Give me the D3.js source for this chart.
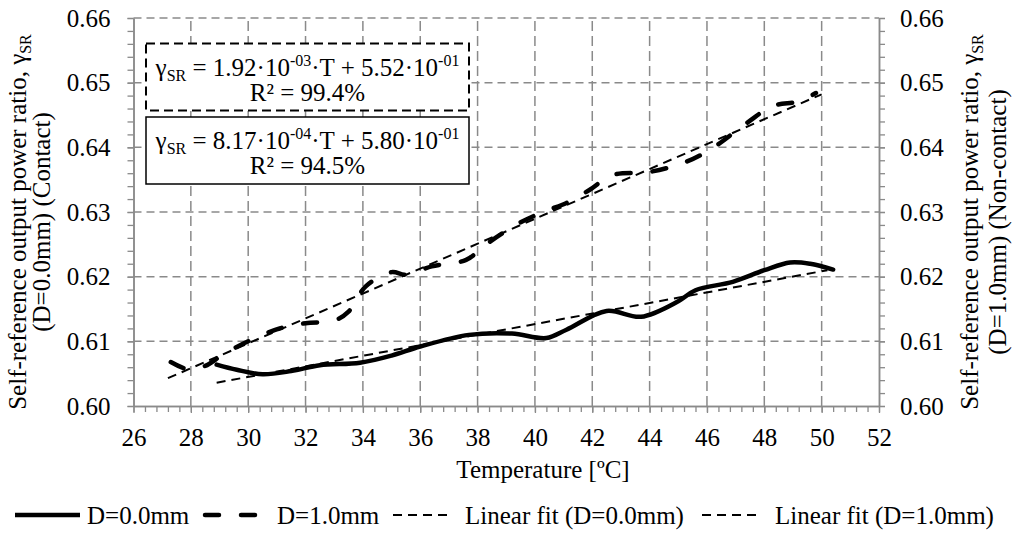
<!DOCTYPE html>
<html>
<head>
<meta charset="utf-8">
<script src="https://cdn.jsdelivr.net/npm/d3@7"></script>
<style>
  body { margin: 0; background: #fff; }
  svg { display: block; }
  svg text { font-family: "Liberation Serif", "Times New Roman", serif; }
</style>
</head>
<body>
<div id="chart"></div>
<script>
// values
const tempD0 = [28.9, 29.6, 30.5, 31.5, 32.5, 33.9, 35.0, 36.0, 37.7, 39.2, 40.4, 41.1, 42.5, 43.7, 45.0, 45.6, 46.9, 48.0, 48.9, 49.6, 50.4];
const ratioD0 = [0.6064, 0.6056, 0.6049, 0.6054, 0.6063, 0.6067, 0.6078, 0.6092, 0.6110, 0.6112, 0.6105, 0.6118, 0.6147, 0.6138, 0.6162, 0.6179, 0.6192, 0.6210, 0.6222, 0.6220, 0.6211];

const tempD1 = [27.3, 27.9, 28.5, 29.1, 30.0, 31.1, 32.0, 33.0, 33.5, 34.1, 35.0, 35.5, 36.4, 37.6, 38.3, 39.5, 40.4, 41.1, 41.9, 42.7, 44.0, 45.3, 46.2, 47.4, 48.3, 49.2, 49.8];
const ratioD1 = [0.6068, 0.6057, 0.6062, 0.6079, 0.6100, 0.6120, 0.6128, 0.6132, 0.6146, 0.6185, 0.6207, 0.6203, 0.6216, 0.6226, 0.6250, 0.6284, 0.6302, 0.6314, 0.6334, 0.6357, 0.6362, 0.6378, 0.6399, 0.6438, 0.6464, 0.6471, 0.6484];

// linear fit end points (D=0.0mm, D=1.0mm)
const fitTemps = [[28.9, 50.2], [27.2, 50.0]];
const fitRatios = [[0.6036, 0.6210], [0.6043, 0.6482]];

// fit equation text: slope mantissa, slope exponent, intercept mantissa, intercept exponent
const fitEqD1 = ["1.92", "-03", "5.52", "-01"];
const fitEqD0 = ["8.17", "-04", "5.80", "-01"];
const fitR2 = ["99.4%", "94.5%"];

const xTicks = [26, 28, 30, 32, 34, 36, 38, 40, 42, 44, 46, 48, 50, 52];
const yTicks = [0.60, 0.61, 0.62, 0.63, 0.64, 0.65, 0.66];
const legendLabels = ["D=0.0mm", "D=1.0mm", "Linear fit (D=0.0mm)", "Linear fit (D=1.0mm)"];

const width = 1024;
const height = 539;
const marginLeft = 133.5;
const marginRight = 879;
const marginTop = 18;
const marginBottom = 406;
const font = "'Liberation Serif', 'Times New Roman', serif";
const gridColor = "#8a8a8a";

const x = d3.scaleLinear([26, 52], [marginLeft, marginRight]);
const y = d3.scaleLinear([0.60, 0.66], [marginBottom, marginTop]);

let svg = d3.select("#chart")
    .append("svg")
    .attr("width", width)
    .attr("height", height)
    .attr("viewBox", [0, 0, width, height])
    .style("background", "#fff")
    .style("font-family", font);

// grid lines
svg.append("g")
    .selectAll("line")
    .data(yTicks.slice(1))
    .join("line")
    .attr("x1", marginLeft).attr("x2", marginRight)
    .attr("y1", d => y(d)).attr("y2", d => y(d))
    .attr("stroke", gridColor).attr("stroke-width", 1.5)
    .attr("stroke-dasharray", "8,5");

svg.append("g")
    .selectAll("line")
    .data(xTicks.slice(1, -1))
    .join("line")
    .attr("x1", d => x(d)).attr("x2", d => x(d))
    .attr("y1", marginBottom).attr("y2", marginTop)
    .attr("stroke", gridColor).attr("stroke-width", 1.5)
    .attr("stroke-dasharray", "10,5");

// axes
const yMinor = d3.range(0, 31).map(i => 0.60 + i * 0.002);
const xMinor = d3.range(0, 66).map(i => 26 + i * 0.4);

function styleAxis(g){
    g.select(".domain").attr("stroke", gridColor).attr("stroke-width", 1.5);
    g.selectAll(".tick line").attr("stroke", gridColor).attr("stroke-width", 1.3);
    g.selectAll("text").attr("fill", "#000");
    g.attr("font-size", 25).attr("font-family", null).style("font-family", font);
}

svg.append("g")
    .attr("transform", `translate(${marginLeft},0)`)
    .call(d3.axisLeft(y).tickValues(yMinor).tickSize(6).tickFormat("").tickSizeOuter(0))
    .call(styleAxis);
svg.append("g")
    .attr("transform", `translate(${marginLeft},0)`)
    .call(d3.axisLeft(y).tickValues(yTicks).tickSize(6).tickPadding(17).tickFormat(d3.format(".2f")).tickSizeOuter(0))
    .call(styleAxis);

svg.append("g")
    .attr("transform", `translate(${marginRight},0)`)
    .call(d3.axisRight(y).tickValues(yMinor).tickSize(6).tickFormat("").tickSizeOuter(0))
    .call(styleAxis);
svg.append("g")
    .attr("transform", `translate(${marginRight},0)`)
    .call(d3.axisRight(y).tickValues(yTicks).tickSize(6).tickPadding(15).tickFormat(d3.format(".2f")).tickSizeOuter(0))
    .call(styleAxis);

svg.append("g")
    .attr("transform", `translate(0,${marginBottom})`)
    .call(d3.axisBottom(x).tickValues(xMinor).tickSize(6).tickFormat("").tickSizeOuter(0))
    .call(styleAxis);
svg.append("g")
    .attr("transform", `translate(0,${marginBottom})`)
    .call(d3.axisBottom(x).tickValues(xTicks).tickSize(7).tickPadding(15).tickFormat(d3.format("d")).tickSizeOuter(0))
    .call(styleAxis);

// axis titles
svg.append("text")
    .attr("x", 543).attr("y", 478)
    .attr("text-anchor", "middle").attr("font-size", 25)
    .text("Temperature [ºC]");

function yTitle(xPos, line2){
    let t1 = svg.append("text")
        .attr("transform", `translate(${xPos[0]},222) rotate(-90)`)
        .attr("text-anchor", "middle").attr("font-size", 25);
    t1.append("tspan").text("Self-reference output power ratio, γ");
    t1.append("tspan").attr("font-size", 16).attr("dy", 5).text("SR");
    svg.append("text")
        .attr("transform", `translate(${xPos[1]},222) rotate(-90)`)
        .attr("text-anchor", "middle").attr("font-size", 25)
        .text(line2);
}
yTitle([26, 50], "(D=0.0mm) (Contact)");
yTitle([978, 1006], "(D=1.0mm) (Non-contact)");

// linear fits
let straight = d3.line().x(d => x(d[0])).y(d => y(d[1]));
fitTemps.forEach((t, i) => {
    svg.append("path")
        .attr("fill", "none")
        .attr("stroke", "#000")
        .attr("stroke-width", 2)
        .attr("stroke-dasharray", "9,6")
        .attr("d", straight(t.map((v, j) => [v, fitRatios[i][j]])));
});

// measured curves
let smooth = d3.line()
    .x(d => x(d[0]))
    .y(d => y(d[1]))
    .curve(d3.curveCatmullRom.alpha(0.5));

svg.append("path")
    .attr("fill", "none")
    .attr("stroke", "#000")
    .attr("stroke-width", 4.5)
    .attr("stroke-linecap", "round")
    .attr("d", smooth(tempD0.map((t, i) => [t, ratioD0[i]])));

svg.append("path")
    .attr("fill", "none")
    .attr("stroke", "#000")
    .attr("stroke-width", 4.5)
    .attr("stroke-linecap", "round")
    .attr("stroke-dasharray", "14,22")
    .attr("d", smooth(tempD1.map((t, i) => [t, ratioD1[i]])));

// equation boxes
function eqBox(top, dashed, eq, r2){
    svg.append("rect")
        .attr("x", 146).attr("y", top)
        .attr("width", 323).attr("height", 67)
        .attr("fill", "#fff")
        .attr("stroke", "#000")
        .attr("stroke-width", dashed ? 2 : 1.5)
        .attr("stroke-dasharray", dashed ? "9,5" : null);
    let t = svg.append("text")
        .attr("x", 307.5).attr("y", top + 32)
        .attr("text-anchor", "middle").attr("font-size", 25);
    t.append("tspan").text("γ");
    t.append("tspan").attr("font-size", 16).attr("dy", 5).text("SR");
    t.append("tspan").attr("dy", -5).text(" = " + eq[0] + "·10");
    t.append("tspan").attr("font-size", 16).attr("dy", -10).text(eq[1]);
    t.append("tspan").attr("dy", 10).text("·T + " + eq[2] + "·10");
    t.append("tspan").attr("font-size", 16).attr("dy", -10).text(eq[3]);
    svg.append("text")
        .attr("x", 307.5).attr("y", top + 57)
        .attr("text-anchor", "middle").attr("font-size", 25)
        .text("R² = " + r2);
}
eqBox(43.5, true, fitEqD1, fitR2[0]);
eqBox(117, false, fitEqD0, fitR2[1]);

// legend
const legendX = [[13, 82, 87], [203, 257, 277], [393, 453, 465], [702, 762, 775]];
const legendStyle = [
    {w: 4.5, dash: null},
    {w: 4.5, dash: "14,22"},
    {w: 2, dash: "9,6"},
    {w: 2, dash: "9,6"}
];
legendLabels.forEach((label, i) => {
    svg.append("line")
        .attr("x1", legendX[i][0] + (legendStyle[i].w > 3 ? 2 : 0))
        .attr("x2", legendX[i][1] - (legendStyle[i].w > 3 ? 2 : 0))
        .attr("y1", 515).attr("y2", 515)
        .attr("stroke", "#000")
        .attr("stroke-width", legendStyle[i].w)
        .attr("stroke-linecap", legendStyle[i].dash && legendStyle[i].w > 3 ? "round" : "butt")
        .attr("stroke-dasharray", legendStyle[i].dash);
    svg.append("text")
        .attr("x", legendX[i][2]).attr("y", 524)
        .attr("font-size", 25)
        .text(label);
});
</script>
</body>
</html>
